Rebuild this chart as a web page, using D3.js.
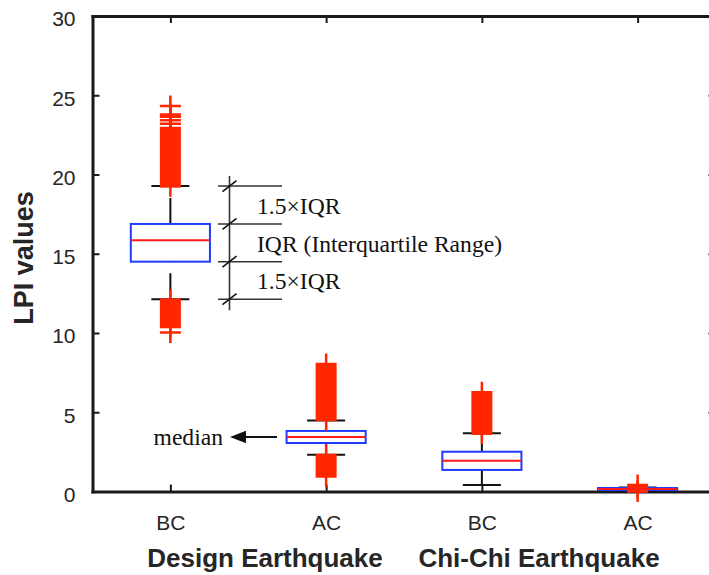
<!DOCTYPE html>
<html>
<head>
<meta charset="utf-8">
<script src="https://cdn.jsdelivr.net/npm/d3@7/dist/d3.min.js"></script>
<style>
  html, body { margin: 0; padding: 0; background: #ffffff; }
  svg { display: block; }
  .axis-txt { font-family: "Liberation Sans", Arial, Helvetica, sans-serif; fill: #262626; }
  .note { font-family: "Liberation Serif", "Times New Roman", serif; fill: #111; }
</style>
</head>
<body>
<svg id="chart" width="709" height="575"></svg>
<script>
// Box-plot summary of LPI values, before (BC) and after (AC) countermeasures
const categories = ["BC", "AC", "BC", "AC"];
const groupNames = ["Design Earthquake", "Chi-Chi Earthquake"];
const yTicks = [0, 5, 10, 15, 20, 25, 30];

const q1 = [14.50, 3.06, 1.36, 0.09];
const medians = [15.85, 3.44, 1.94, 0.15];
const q3 = [16.88, 3.82, 2.51, 0.22];
const whiskerLow = [12.13, 2.32, 0.41, 0.05];
const whiskerHigh = [19.27, 4.48, 3.67, 0.26];

// Isolated outliers, one array per box
const outlierPoints = [
  [24.32, 23.78, 23.65, 23.42, 23.20, 10.03],
  [],
  [],
  []
];
// Runs of tightly packed outliers [lowest, highest], one array per box
const outlierRuns = [
  [[19.25, 22.93], [10.38, 12.10]],
  [[4.52, 8.04], [0.95, 2.30]],
  [[3.65, 6.26]],
  [[0.30, 0.41], [0.00, 0.03]]
];

const svg = d3.select("#chart");
const x = d3.scaleLinear().domain([0.5, 4.5]).range([92.5, 715.5]);
const y = d3.scaleLinear().domain([0, 30]).range([491.5, 16]);

const unit = x(1) - x(0);
const boxHalf = unit * 0.254;
const capHalf = unit * 0.122;
const markHalf = 10.5;
const axisColor = "#1a1a1a";

// ---- axes (box frame with inward ticks) ----
function styleAxis(g) {
  g.select(".domain").attr("stroke", axisColor).attr("stroke-width", 3).attr("stroke-linecap", "square");
  g.selectAll(".tick line").attr("stroke", axisColor).attr("stroke-width", 2);
}

const left = svg.append("g").attr("transform", `translate(${x.range()[0]},0)`)
  .call(d3.axisLeft(y).tickValues(yTicks).tickSizeInner(-7).tickSizeOuter(0).tickPadding(17))
  .call(styleAxis);
left.selectAll(".tick text").attr("class", "axis-txt").attr("font-size", 21).attr("dy", "0.47em")
  .attr("font-family", null).attr("fill", "#262626");

svg.append("g").attr("transform", `translate(${x.range()[1]},0)`)
  .call(d3.axisRight(y).tickValues(yTicks).tickSizeInner(-7).tickSizeOuter(0).tickFormat(""))
  .call(styleAxis);

svg.append("g").attr("transform", `translate(0,${y.range()[1]})`)
  .call(d3.axisTop(x).tickValues([1, 2, 3, 4]).tickSizeInner(-7).tickSizeOuter(0).tickFormat(""))
  .call(styleAxis);

const bottom = svg.append("g").attr("transform", `translate(0,${y.range()[0]})`)
  .call(d3.axisBottom(x).tickValues([1, 2, 3, 4]).tickSizeInner(-7).tickSizeOuter(0)
    .tickFormat(d => categories[d - 1]))
  .call(styleAxis);
bottom.selectAll(".tick text").attr("class", "axis-txt").attr("font-size", 21)
  .attr("y", 38.5).attr("dy", 0).attr("font-family", null).attr("fill", "#262626");

// axis titles
svg.append("text").attr("class", "axis-txt")
  .attr("transform", "translate(33,258) rotate(-90)")
  .attr("text-anchor", "middle").attr("font-size", 27).attr("font-weight", "bold")
  .text("LPI values");

const groupCenters = [265, 539];
svg.selectAll("text.group").data(groupNames).join("text")
  .attr("class", "axis-txt group")
  .attr("x", (d, i) => groupCenters[i]).attr("y", 567)
  .attr("text-anchor", "middle").attr("font-size", 26).attr("font-weight", "bold")
  .text(d => d);

// ---- boxes ----
const idx = d3.range(categories.length);
const plot = svg.append("g");

// whiskers (dashed, drawn upward)
plot.selectAll("line.wlo").data(idx).join("line")
  .attr("x1", i => x(i + 1)).attr("x2", i => x(i + 1))
  .attr("y1", i => y(whiskerLow[i])).attr("y2", i => y(q1[i]))
  .attr("stroke", "#111").attr("stroke-width", 2).attr("stroke-dasharray", "26 11");
plot.selectAll("line.whi").data(idx).join("line")
  .attr("x1", i => x(i + 1)).attr("x2", i => x(i + 1))
  .attr("y1", i => y(q3[i])).attr("y2", i => y(whiskerHigh[i]))
  .attr("stroke", "#111").attr("stroke-width", 2).attr("stroke-dasharray", "26 11");

// whisker caps
[whiskerLow, whiskerHigh].forEach(arr => {
  plot.append("g").selectAll("line").data(idx).join("line")
    .attr("x1", i => x(i + 1) - capHalf).attr("x2", i => x(i + 1) + capHalf)
    .attr("y1", i => y(arr[i])).attr("y2", i => y(arr[i]))
    .attr("stroke", "#111").attr("stroke-width", 2);
});

// interquartile boxes
plot.selectAll("rect.box").data(idx).join("rect")
  .attr("x", i => x(i + 1) - boxHalf).attr("width", 2 * boxHalf)
  .attr("y", i => y(q3[i])).attr("height", i => Math.max(y(q1[i]) - y(q3[i]), 0.5))
  .attr("fill", "none").attr("stroke", "#1e3cff").attr("stroke-width", 2);

// medians
plot.selectAll("line.med").data(idx).join("line")
  .attr("x1", i => x(i + 1) - boxHalf).attr("x2", i => x(i + 1) + boxHalf)
  .attr("y1", i => y(medians[i])).attr("y2", i => y(medians[i]))
  .attr("stroke", "#ff1a1a").attr("stroke-width", 2);

// outliers drawn as '+' markers
const outColor = "#ff2600";
const og = plot.append("g").attr("stroke", outColor).attr("fill", outColor);
idx.forEach(i => {
  const cx = x(i + 1);
  outlierRuns[i].forEach(([lo, hi]) => {
    og.append("rect")
      .attr("x", cx - markHalf).attr("width", 2 * markHalf)
      .attr("y", y(hi) - 1.3).attr("height", y(lo) - y(hi) + 2.6)
      .attr("stroke", "none");
    og.append("line")
      .attr("x1", cx).attr("x2", cx)
      .attr("y1", y(hi) - markHalf).attr("y2", y(lo) + markHalf)
      .attr("stroke-width", 2.5);
  });
  outlierPoints[i].forEach(v => {
    og.append("path")
      .attr("d", `M${cx - markHalf},${y(v)}H${cx + markHalf}M${cx},${y(v) - markHalf}V${y(v) + markHalf}`)
      .attr("fill", "none").attr("stroke-width", 2.6);
  });
});

// ---- annotation: whisker / IQR bracket beside the first box ----
const note = svg.append("g");
const bx = 229.5;
const levels = [whiskerHigh[0], q3[0], q1[0], whiskerLow[0]];
note.append("line").attr("x1", bx).attr("x2", bx)
  .attr("y1", y(levels[0]) - 10).attr("y2", y(levels[3]) + 11)
  .attr("stroke", "#333").attr("stroke-width", 1.6);
levels.forEach(v => {
  note.append("line").attr("x1", 218).attr("x2", 282)
    .attr("y1", y(v)).attr("y2", y(v)).attr("stroke", "#333").attr("stroke-width", 1.6);
  note.append("line").attr("x1", bx - 7).attr("x2", bx + 7)
    .attr("y1", y(v) + 5.5).attr("y2", y(v) - 5.5).attr("stroke", "#111").attr("stroke-width", 1.6);
});
const noteTexts = ["1.5×IQR", "IQR (Interquartile Range)", "1.5×IQR"];
noteTexts.forEach((t, k) => {
  const mid = (y(levels[k]) + y(levels[k + 1])) / 2;
  note.append("text").attr("class", "note").attr("x", 257).attr("y", mid + 9)
    .attr("font-size", 23.6).text(t);
});

// median pointer
const my = y(medians[1]);
note.append("line").attr("x1", 244).attr("x2", 277).attr("y1", my).attr("y2", my)
  .attr("stroke", "#111").attr("stroke-width", 2.2);
note.append("path").attr("d", `M230,${my}L246,${my - 6.2}L246,${my + 6.2}Z`).attr("fill", "#111");
note.append("text").attr("class", "note").attr("x", 223).attr("y", my + 8.5)
  .attr("text-anchor", "end").attr("font-size", 23.6).text("median");
</script>
</body>
</html>
